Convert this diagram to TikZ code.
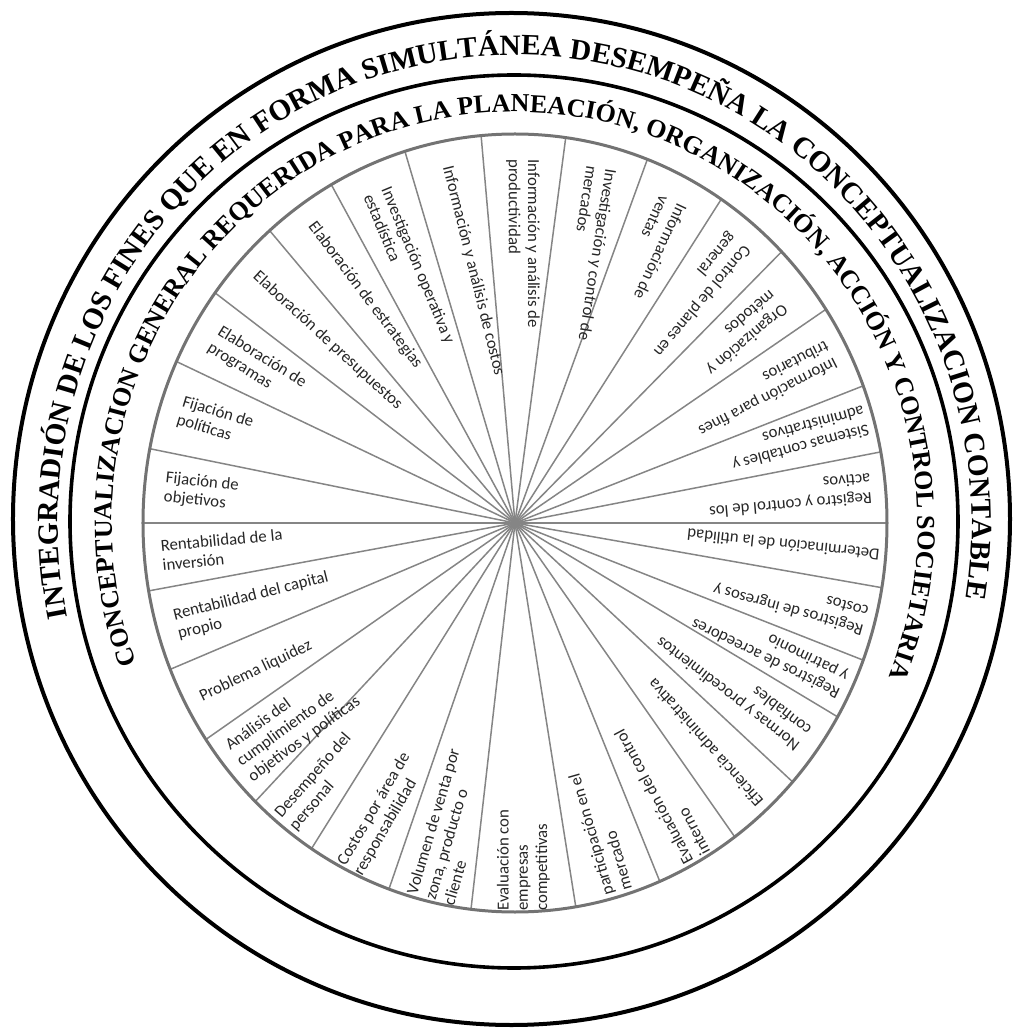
\documentclass[tikz,border=0pt]{standalone}
\usepackage{fontspec}
\setmainfont{Liberation Serif}
\newfontfamily\segfont{Carlito}
\usetikzlibrary{decorations.text}

\newcommand\outerringfont{\fontsize{14.7}{17}\selectfont\bfseries}
\newcommand\innerringfont{\fontsize{13}{15}\selectfont\bfseries}

\tikzset{ring/.style={line width=2pt},          % black outer rings
         rim/.style={line width=1.5pt, black!55},  % grey wheel rim
         spoke/.style={line width=0.75pt, black!48},
         seglabel/.style={                       % text inside one slice
           font=\segfont\fontsize{8.4}{9.6}\selectfont,
           align=left, anchor=west, inner sep=0pt, text=black!85}}

\begin{document}
\begin{tikzpicture}[x=0.5pt, y=0.5pt]
  \useasboundingbox (-515,-505) rectangle (499,523);

  % rings
  \draw [ring] (-3.5,4) ellipse [x radius=498.5, y radius=506];
  \draw [ring, line width=1.8pt] (-1,1.5) ellipse [x radius=444, y radius=446.5];

  % ring texts
  \path [decorate, decoration={text along path, text align={fit to path},
      text={|\outerringfont|INTEGRADIÓN DE LOS FINES QUE EN FORMA SIMULTÁNEA DESEMPEÑA LA CONCEPTUALIZACION CONTABLE}}]
    (191.6:457 and 468) arc [start angle=191.6, end angle=-9.3, x radius=457, y radius=468];
  \path [decorate, decoration={text along path, text align={fit to path},
      text={|\innerringfont|CONCEPTUALIZACION GENERAL REQUERIDA PARA LA PLANEACIÓN, ORGANIZACIÓN, ACCIÓN Y CONTROL SOCIETARIA}}]
    (200:403 and 411) arc [start angle=200, end angle=-22, x radius=403, y radius=411];

  % spokes
  \begin{scope}
    \clip (0,0) ellipse [x radius=372, y radius=389];
    \foreach \s in {0,11,21.5,34.5,45.5,57.5,70,82.5,95,106.5,118.5,130,142.5,154.5,168.5,
                    180,190.5,203,215,227,238,251,263.5,279,292,305,317,329,338.5,350}
      \draw [spoke] (0,0) -- (\s:420);
  \end{scope}
  \draw [rim] (0,0) ellipse [x radius=372, y radius=389];

  % slice labels: angle / inset from rim / rotation / text
  \foreach \a/\d/\r/\t [count=\i] in {
      174.25/20/-6/{Fijación de\\objetivos},
      161.5/20/-17/{Fijación de\\políticas},
      148.5/23/-32/{Elaboración de\\programas},
      136.25/20/-42.5/{Elaboración de presupuestos},
      124.25/21/-53/{Elaboración de estrategias},
      112.5/27/-67.5/{Investigación operativa y\\estadística},
      100.75/25/-76/{Información y análisis de costos},
      88.75/25/-90/{Información y análisis de\\productividad},
      76.25/22/-99/{Investigación y control de\\mercados},
      63.75/26/-115/{Información de\\ventas},
      51.5/21/-130/{Control de planes en\\general},
      40/33/-140/{Organización y\\métodos},
      28/16/-153/{Información para fines\\tributarios},
      16.25/7/-165/{Sistemas contables y\\administrativos},
      5.5/14/-175/{Registro y control de los\\activos},
      -5/6/174/{Determinación de la utilidad},
      -15.75/9/164.5/{Registros de ingresos y\\costos},
      -26.25/9/154/{Registros de acreedores\\y patrimonio},
      -37/17/142.5/{Normas y procedimientos\\confiables},
      -49/8/131.5/{Eficiencia administrativa},
      -61.5/3/118/{Evaluación del control\\interno},
      -74.5/4/106/{participación en el\\mercado},
      -88.75/1/90/{Evaluación con\\empresas\\competitivas},
      -102.75/2/73.5/{Volumen de venta por\\zona, producto o\\cliente},
      -115.5/2/59.5/{Costos por área de\\responsabilidad},
      -127.5/5/49/{Desempeño del\\personal},
      -139/13/36/{Análisis del\\cumplimiento de\\objetivos y políticas},
      -151/16/25.5/{Problema liquidez},
      -163.25/19/14/{Rentabilidad del capital\\propio},
      -174.75/17/5.5/{Rentabilidad de la\\inversión}}
    \node [seglabel, rotate=\r] (seg\i)
      at (\a:{100/sqrt((cos(\a)/3.72)^2+(sin(\a)/3.89)^2)-\d}) {\t};
\end{tikzpicture}
\end{document}
